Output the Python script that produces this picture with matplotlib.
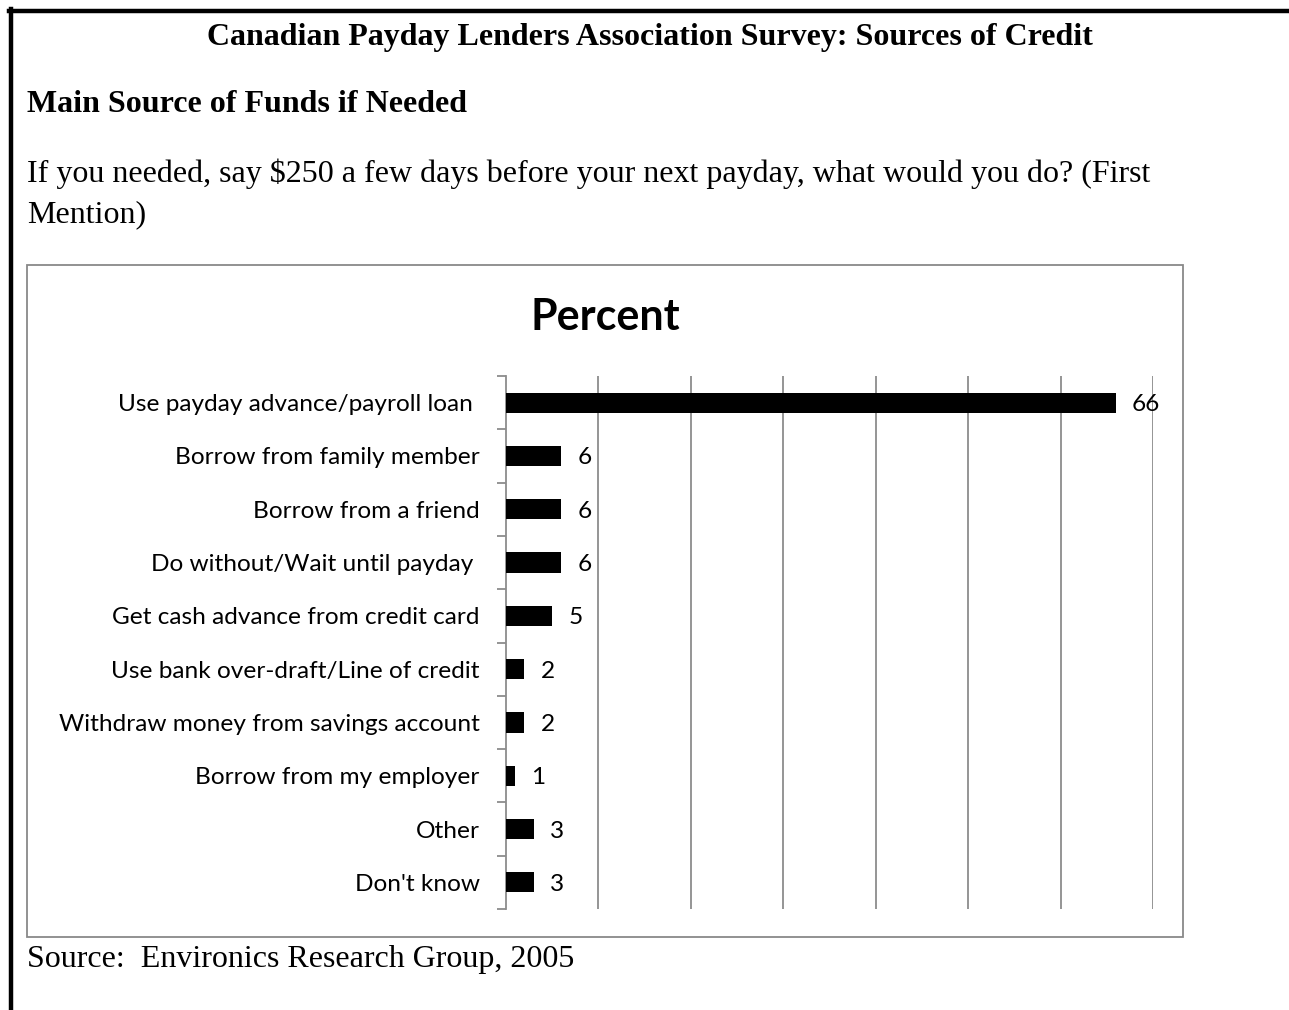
#!/usr/bin/env python3

import numpy as np
import matplotlib
matplotlib.use('Agg')
import matplotlib.pyplot as plt
from matplotlib.lines import Line2D
from matplotlib.patches import Rectangle

# data, top to bottom as in the chart
categories = ['Use payday advance/payroll loan ',
              'Borrow from family member',
              'Borrow from a friend',
              'Do without/Wait until payday ',
              'Get cash advance from credit card',
              'Use bank over-draft/Line of credit',
              'Withdraw money from savings account',
              'Borrow from my employer',
              'Other',
              "Don't know"]
percent = [66, 6, 6, 6, 5, 2, 2, 1, 3, 3]


def main():
    fig = plt.figure(figsize=(12.89, 10.10), dpi=100)
    serif = 'Liberation Serif'

    # document frame (thick lines top and left)
    fig.add_artist(Line2D([9/1289, 1.0], [1 - 11/1010, 1 - 11/1010], color='black', lw=3.2,
                          transform=fig.transFigure))
    fig.add_artist(Line2D([11/1289, 11/1289], [0, 1 - 9/1010], color='black', lw=3.2,
                          transform=fig.transFigure))

    # text around the chart
    fs = 23
    fig.text(650/1289, 1 - 37/1010, 'Canadian Payday Lenders Association Survey: Sources of Credit',
             ha='center', va='center', fontsize=fs, fontweight='bold', family=serif)
    fig.text(27/1289, 1 - 104/1010, 'Main Source of Funds if Needed',
             ha='left', va='center', fontsize=fs, fontweight='bold', family=serif)
    fig.text(27/1289, 1 - 174/1010,
             'If you needed, say $250 a few days before your next payday, what would you do? (First',
             ha='left', va='center', fontsize=fs, family=serif)
    fig.text(27/1289, 1 - 215/1010, 'Mention)', ha='left', va='center', fontsize=fs, family=serif)
    fig.text(27/1289, 1 - 960/1010, 'Source:  Environics Research Group, 2005',
             ha='left', va='center', fontsize=fs, family=serif)

    # chart border
    fig.add_artist(Rectangle((27/1289, 73/1010), (1183 - 27)/1289, (937 - 265)/1010,
                             fill=False, edgecolor='#898989', lw=1.3, transform=fig.transFigure))

    fig.text(605/1289, 1 - 317/1010, 'Percent', ha='center', va='center',
             fontsize=31, fontweight='bold', family='Lato')

    ax = fig.add_axes([506/1289, 101/1010, 647/1289, 533/1010])
    y = np.arange(len(categories))
    ax.barh(y, percent, height=0.38, color='black', zorder=3)
    ax.set_xlim(0, 70)
    ax.set_ylim(len(categories) - 0.5, -0.5)
    ax.set_xticks(np.arange(10, 71, 10))
    ax.xaxis.grid(True, color='#8c8c8c', lw=1.3)
    ax.tick_params(axis='x', length=0, labelbottom=False)

    ax.set_yticks(y)
    ax.set_yticklabels(categories, fontsize=17.6, family='Lato')
    ax.set_yticks(np.arange(-0.5, len(categories)), minor=True)
    ax.tick_params(axis='y', which='major', length=0, pad=19)
    ax.tick_params(axis='y', which='minor', length=6.5, width=1.3, color='#8c8c8c')

    for s in ['top', 'right', 'bottom']:
        ax.spines[s].set_visible(False)
    ax.spines['left'].set_color('#8c8c8c')
    ax.spines['left'].set_linewidth(1.3)

    for yi, v in zip(y, percent):
        ax.annotate(str(v), (v, yi), xytext=(11.5, 0), textcoords='offset points',
                    ha='left', va='center_baseline', fontsize=17.6, family='Lato')

    fig.savefig('out.png', dpi=100)


if __name__ == "__main__":
    main()
